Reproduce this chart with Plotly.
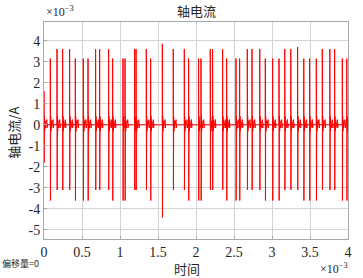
import plotly.graph_objects as go

# Event times (ms) and peak currents (x10^-3 A)
event_t = [0.000, 0.083, 0.171, 0.245, 0.337, 0.412, 0.517, 0.579, 0.679, 0.732, 0.850,
           0.903, 1.039, 1.066, 1.192, 1.211, 1.346, 1.403, 1.557, 1.701, 1.846,
           1.903, 2.034, 2.066, 2.188, 2.218, 2.350, 2.403, 2.526, 2.574, 2.675,
           2.737, 2.839, 2.912, 3.008, 3.092, 3.168, 3.247, 3.337, 3.418, 3.495,
           3.583, 3.662, 3.761, 3.824, 3.925, 3.984]
event_pos = [1.6, 3.15, 3.6, 3.6, 3.6, 3.15, 3.15, 3.15, 3.6, 3.6, 3.6,
             3.15, 3.15, 3.15, 3.6, 3.6, 3.6, 3.15, 3.85, 3.6, 3.6,
             3.15, 3.15, 3.15, 3.6, 3.6, 3.6, 3.15, 3.15, 3.15, 3.6,
             3.6, 3.6, 3.15, 3.15, 3.15, 3.6, 3.6, 3.7, 3.15, 3.15,
             3.15, 3.6, 3.6, 3.6, 3.15, 3.15]
event_neg = [-1.8, -3.6, -3.1, -3.1, -3.1, -3.6, -3.6, -3.6, -3.1, -3.1, -3.1,
             -3.6, -3.6, -3.6, -3.1, -3.1, -3.1, -3.6, -4.4, -3.1, -3.1,
             -3.6, -3.6, -3.6, -3.1, -3.1, -3.1, -3.6, -3.6, -3.6, -3.1,
             -3.1, -3.1, -3.6, -3.6, -3.6, -3.1, -3.1, -3.1, -3.6, -3.6,
             -3.6, -3.1, -3.1, -3.1, -3.6, -3.6]
# small ringing after each spike (x10^-3 A) and its time offsets (ms)
ring_amp = [0.4, -0.3, 0.2, -0.15, 0.25, -0.15, 0.05, 0.0]
ring_dt = [0.005, 0.009, 0.013, 0.017, 0.036, 0.040, 0.046, 0.052]

xs, ys = [], []
nxt = event_t[1:] + [4.0]
for t, p, n, tn in zip(event_t, event_pos, event_neg, nxt):
    xs += [t, t, t + 0.002]
    ys += [0.0, p, n]
    for a, d in zip(ring_amp, ring_dt):
        if t + d < tn - 0.001:
            xs.append(t + d)
            ys.append(a)
    xs.append(min(t + 0.056, tn - 0.0005))
    ys.append(0.0)
xs.append(4.0)
ys.append(0.0)

serif = "Liberation Serif"
cjk = "Noto Sans CJK SC"
txt = "#262626"

fig = go.Figure()
fig.add_trace(go.Scatter(x=xs, y=ys, mode="lines",
                         line=dict(color="#ff0000", width=1, simplify=False),
                         hoverinfo="skip"))

ytv = [-5, -4, -3, -2, -1, 0, 1, 2, 3, 4]
xtv = [0, 0.5, 1, 1.5, 2, 2.5, 3, 3.5, 4]
axis_common = dict(showgrid=True, gridcolor="#d4d4d4", gridwidth=1,
                   showline=True, linecolor="#a8a8a8", linewidth=1, mirror=True,
                   ticks="inside", ticklen=3, tickcolor="#a8a8a8",
                   tickfont=dict(family=serif, size=14, color=txt), zeroline=False)
fig.update_layout(
    width=363, height=278,
    margin=dict(l=44, r=15, t=22, b=39),
    paper_bgcolor="white", plot_bgcolor="white",
    showlegend=False,
    xaxis=dict(range=[0, 4], tickvals=xtv, ticktext=[f"{v:g}" for v in xtv], **axis_common),
    yaxis=dict(range=[-5.43, 4.89], tickvals=ytv, ticktext=[str(v) for v in ytv], **axis_common),
)
anns = [
    dict(text="轴电流", xref="paper", yref="paper", x=0.5, y=1.0, yshift=12,
         xanchor="center", yanchor="middle", font=dict(family=cjk, size=13, color=txt)),
    dict(text="×10<sup>−3</sup>", xref="paper", yref="paper", x=0.0, y=1.0,
         xanchor="left", yanchor="bottom", yshift=1,
         font=dict(family=serif, size=12, color=txt)),
    dict(text="×10<sup>−3</sup>", xref="paper", yref="paper", x=1.0, y=0.0,
         xanchor="right", yanchor="top", yshift=-20, xshift=2,
         font=dict(family=serif, size=12, color=txt)),
    dict(text="时间", xref="paper", yref="paper", x=0.47, y=0.0,
         xanchor="center", yanchor="top", yshift=-18,
         font=dict(family=cjk, size=13, color=txt)),
    dict(text="轴电流/A", xref="paper", yref="paper", x=0.0, y=0.49,
         xanchor="center", yanchor="middle", xshift=-30, textangle=-90,
         font=dict(family=cjk, size=13, color=txt)),
    dict(text="偏移量=0", xref="paper", yref="paper", x=0.0, y=0.0,
         xanchor="left", yanchor="top", xshift=-44, yshift=-16,
         font=dict(family=cjk, size=9, color=txt)),
]
for a in anns:
    a["showarrow"] = False
fig.update_layout(annotations=anns)
fig.write_html("out.html", config={"displayModeBar": False},
               post_script="document.body.style.margin='0';")
